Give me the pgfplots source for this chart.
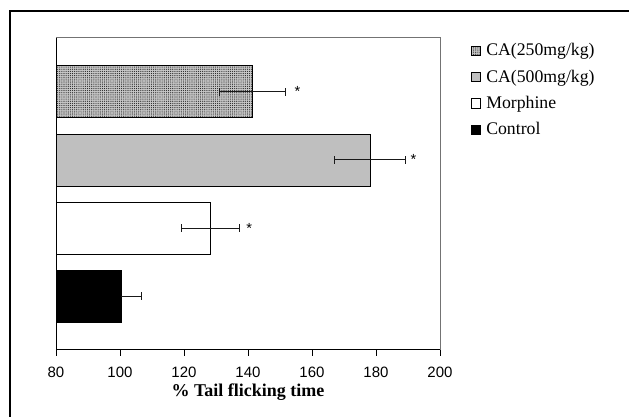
\documentclass[border=0pt]{standalone}
\usepackage{fontspec}
\setmainfont{Liberation Serif}
\newfontfamily\arial{Liberation Sans}
\usepackage{pgfplots}
\pgfplotsset{compat=1.18}
\usetikzlibrary{patterns.meta}
\begin{document}
\begin{tikzpicture}[x=1pt,y=1pt]
\useasboundingbox (0,0) rectangle (471.75,312.75);
% outer frame (cropped)
\draw[line width=1.6pt] (7.5,-5) -- (7.5,304.5) -- (480,304.5);
\begin{axis}[
  at={(42pt,50.25pt)}, anchor=south west,
  scale only axis, width=288pt, height=234pt,
  xbar, bar width=39pt, bar shift=0pt,
  xmin=80, xmax=200, ymin=-0.79, ymax=3.79,
  xtick={80,100,...,200}, ytick=\empty,
  axis x line*=bottom, axis y line*=left,
  axis line style={-, line width=0.75pt},
  tick align=outside, major tick length=4.5pt,
  xtick style={black, line width=0.75pt},
  /pgf/number format/assume math mode=true,
  tick label style={font=\arial\fontsize{11.25}{13}\selectfont},
  xticklabel style={yshift=-4.5pt},
  xlabel={\bfseries\% Tail flicking time},
  xlabel style={font=\fontsize{13.5}{15}\selectfont, yshift=2pt},
  clip=false,
  legend style={at={(1,1)}, anchor=north west, xshift=20pt, yshift=0pt,
    draw=none, fill=none, font=\fontsize{13.3}{15}\selectfont,
    row sep=5pt, nodes={inner xsep=4pt}},
  legend cell align=left,
  legend image code/.code={\draw[#1,line width=0.5pt] (0pt,-3.5pt) rectangle (7pt,3.5pt);},
  error bars/error bar style={black!90, line width=0.75pt},
  error bars/error mark options={black!90, rotate=90, mark size=2.8pt, line width=0.75pt},
]
% CA 250 mg/kg
\addplot[draw=black, line width=0.6pt, fill=black!22,
  postaction={pattern={Dots[distance=1.6pt,radius=0.45pt]}, pattern color=black!85},
  error bars/.cd, x dir=both, x explicit]
  coordinates {(141.5,3) +- (10.3,0)};
\addlegendentry{CA(250mg/kg)}
% CA 500 mg/kg
\addplot[draw=black, line width=0.6pt, fill=black!25,
  error bars/.cd, x dir=both, x explicit]
  coordinates {(178.1,2) +- (11.1,0)};
\addlegendentry{CA(500mg/kg)}
% Morphine
\addplot[draw=black, line width=0.6pt, fill=white,
  error bars/.cd, x dir=both, x explicit]
  coordinates {(128.2,1) +- (9.1,0)};
\addlegendentry{Morphine}
% Control
\addplot[draw=black, line width=0.6pt, fill=black,
  error bars/.cd, x dir=plus, x explicit]
  coordinates {(100.3,0) +- (6.4,0)};
\addlegendentry{Control}
% grey top/right frame
\draw[black!55, line width=0.75pt] (rel axis cs:0,1) -- (rel axis cs:1,1) -- (rel axis cs:1,0);
% significance marks
\node[font=\arial\fontsize{11}{13}\selectfont] at (axis cs:155.5,3) {*};
\node[font=\arial\fontsize{11}{13}\selectfont] at (axis cs:191.7,2) {*};
\node[font=\arial\fontsize{11}{13}\selectfont] at (axis cs:140.4,1) {*};
\end{axis}
\end{tikzpicture}
\end{document}
